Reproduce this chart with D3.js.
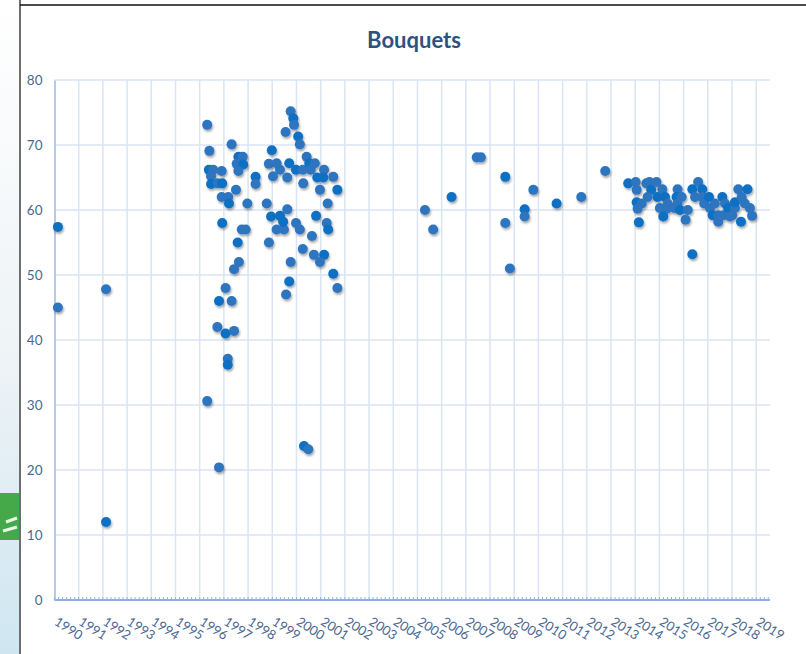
<!DOCTYPE html>
<html>
<head>
<meta charset="utf-8">
<script src="https://cdn.jsdelivr.net/npm/d3@7"></script>
<style>
  html, body { margin: 0; padding: 0; background: #fff; }
  svg { display: block; }
</style>
</head>
<body>
<svg id="chart"></svg>
<script>
// chart data (year as decimal, score)
const title = 'Bouquets'
const threshold = 50
const yTicks = [0, 10, 20, 30, 40, 50, 60, 70, 80]
const xTickYears = d3.range(1990, 2020)

const early = [[1990.14, 57.4], [1990.14, 45], [1992.13, 47.8], [1992.13, 12]]

const late90s = [
  [1996.31, 73.1], [1996.40, 69.1], [1996.38, 66.2], [1996.56, 66.2], [1996.47, 65.2],
  [1996.47, 64], [1996.74, 64.1], [1996.91, 66], [1996.93, 64.1], [1996.91, 62],
  [1997.18, 62], [1997.21, 61], [1997.32, 70.1], [1997.50, 63.1], [1997.60, 68.2],
  [1997.78, 68.2], [1997.53, 67.1], [1997.80, 67], [1997.60, 66], [1997.97, 61],
  [1996.93, 58], [1997.74, 57], [1997.90, 57], [1997.57, 55], [1997.62, 52],
  [1997.42, 50.9], [1998.31, 65.1], [1998.31, 64], [1998.77, 61], [1998.95, 59],
  [1998.86, 55], [1998.86, 67.1], [1998.98, 69.2], [1999.03, 65.2],
  [1997.07, 48], [1996.80, 46], [1997.32, 46], [1996.73, 42], [1997.07, 41],
  [1997.42, 41.4], [1997.16, 37.1], [1997.16, 36.2], [1996.31, 30.6], [1996.80, 20.4]
]

const turnOfCentury = [
  [2000.31, 23.7], [2000.49, 23.2], [1999.57, 47], [1999.70, 49], [2001.69, 48],
  [1999.76, 75.2], [1999.87, 74.1], [1999.90, 73.1], [1999.55, 72], [2000.07, 71.3],
  [2000.14, 70.1], [1999.18, 67.2], [1999.70, 67.2], [1999.32, 66.2], [1999.62, 65],
  [1999.98, 66.2], [2000.26, 66.2], [2000.42, 68.2], [2000.53, 67.2], [2000.76, 67.2],
  [2000.59, 66.2], [2000.86, 65], [2001.14, 66.2], [2001.52, 65.1], [2001.11, 65],
  [2000.28, 64.1], [2000.97, 63.1], [2001.69, 63.1], [2001.29, 61], [1999.62, 60.1],
  [1999.32, 59.1], [1999.18, 57], [1999.48, 57], [1999.45, 58.2], [1999.98, 58],
  [2000.14, 57], [2000.81, 59.1], [2000.64, 56], [2001.25, 58], [2001.31, 57],
  [2000.26, 54], [2000.72, 53.1], [2001.14, 53.1], [2000.97, 52], [1999.76, 52],
  [2001.52, 50.2]
]

const mid2000s = [
  [2005.31, 60], [2005.65, 57], [2006.41, 62], [2007.45, 68.1], [2007.62, 68.1],
  [2008.63, 65.1], [2008.63, 58], [2008.82, 51], [2009.43, 60.1], [2009.43, 59],
  [2009.79, 63.1], [2010.75, 61], [2011.77, 62], [2012.76, 66]
]

const recent = [
  [2013.71, 64.1], [2014.02, 64.3], [2014.06, 63.1], [2014.06, 61.2], [2014.27, 61],
  [2014.10, 60.2], [2014.15, 58.1], [2014.46, 64.1], [2014.59, 64.3], [2014.66, 63.1],
  [2014.88, 64.3], [2014.51, 62], [2014.92, 62], [2015.12, 63.2], [2015.02, 60.3],
  [2015.23, 62], [2015.34, 61], [2015.30, 60.2], [2015.16, 59], [2015.61, 60.3],
  [2015.75, 63.2], [2015.71, 62], [2015.92, 62], [2015.75, 61], [2015.85, 60],
  [2016.17, 60], [2016.08, 58.5], [2016.36, 63.2], [2016.47, 62], [2016.60, 64.3],
  [2016.77, 63.2], [2016.77, 62], [2016.85, 61], [2017.05, 62], [2017.09, 60.3],
  [2017.29, 61], [2017.20, 59.2], [2017.43, 58.2], [2017.43, 59.2], [2017.60, 62],
  [2017.71, 61], [2017.64, 59.2], [2017.84, 60.3], [2017.91, 59], [2018.12, 60.3],
  [2018.12, 61.2], [2018.01, 59.2], [2018.26, 63.2], [2018.64, 63.2], [2018.40, 62],
  [2018.53, 61], [2018.37, 58.2], [2018.74, 60.3], [2018.83, 59.1], [2016.36, 53.2]
]

const points = [...early, ...late90s, ...turnOfCentury, ...mid2000s, ...recent]

const W = 806, H = 654
const svg = d3.select('#chart').attr('width', W).attr('height', H)

const defs = svg.append('defs')
const bg = defs.append('linearGradient').attr('id', 'sideBg')
  .attr('x1', 0).attr('y1', 0).attr('x2', 0).attr('y2', 1)
bg.append('stop').attr('offset', '0%').attr('stop-color', '#ffffff')
bg.append('stop').attr('offset', '55%').attr('stop-color', '#eef3f6')
bg.append('stop').attr('offset', '100%').attr('stop-color', '#cfe6f1')

const shadow = defs.append('filter').attr('id', 'shadow')
  .attr('x', '-50%').attr('y', '-50%').attr('width', '200%').attr('height', '200%')
shadow.append('feDropShadow').attr('dx', 1).attr('dy', 2).attr('stdDeviation', 1.2)
  .attr('flood-color', '#000').attr('flood-opacity', 0.35)

// left strip from the slide behind
svg.append('rect').attr('x', 0).attr('y', 0).attr('width', 20).attr('height', H).attr('fill', 'url(#sideBg)')
svg.append('rect').attr('x', 0).attr('y', 493).attr('width', 20).attr('height', 47).attr('fill', '#45a849')
svg.append('path').attr('d', 'M6,522 L17,518 M3,531 L17,527').attr('stroke', '#e8f5e8').attr('stroke-width', 3)
svg.append('line').attr('x1', 20).attr('x2', 20).attr('y1', 0).attr('y2', H)
  .attr('stroke', '#6e6e6e').attr('stroke-width', 2)
svg.append('line').attr('x1', 20).attr('x2', W).attr('y1', 5).attr('y2', 5)
  .attr('stroke', '#111').attr('stroke-width', 1.5)

const x = d3.scaleLinear().domain([1990, 2019.57]).range([54.5, 770])
const y = d3.scaleLinear().domain([0, 80]).range([600, 80])

// gridlines
svg.append('g').selectAll('line').data(yTicks.filter(d => d > 0)).join('line')
  .attr('x1', x(1990)).attr('x2', x.range()[1])
  .attr('y1', d => y(d)).attr('y2', d => y(d))
  .attr('stroke', '#d9e5f4').attr('stroke-width', 1.5)
svg.append('g').selectAll('line').data(xTickYears.slice(1)).join('line')
  .attr('x1', d => x(d)).attr('x2', d => x(d))
  .attr('y1', y(80)).attr('y2', y(0))
  .attr('stroke', '#d9e5f4').attr('stroke-width', 1.5)

// y axis
const yAxis = svg.append('g').attr('transform', `translate(${x(1990)},0)`)
  .call(d3.axisLeft(y).tickValues(yTicks).tickSize(0).tickPadding(12))
yAxis.select('.domain').attr('stroke', '#b3cbea').attr('stroke-width', 2)
yAxis.selectAll('text').attr('fill', '#4a6791').attr('font-family', 'Lato, sans-serif').attr('font-size', 13.5)

// x axis with minor ticks
const minor = d3.range(0, (2019.5 - 1990) * 6 + 1).map(i => 1990 + i / 6)
svg.append('g').selectAll('line').data(minor).join('line')
  .attr('x1', d => x(d)).attr('x2', d => x(d))
  .attr('y1', y(0)).attr('y2', y(0) - 3)
  .attr('stroke', '#8fb1de').attr('stroke-width', 1)
svg.append('line').attr('x1', x(1990)).attr('x2', x.range()[1])
  .attr('y1', y(0)).attr('y2', y(0))
  .attr('stroke', '#8fb1de').attr('stroke-width', 2)

svg.append('g').selectAll('text').data(xTickYears).join('text')
  .attr('transform', d => `translate(${x(d) - 1},${y(0) + 24}) rotate(33)`)
  .attr('fill', '#4a6791').attr('font-family', 'Lato, sans-serif').attr('font-size', 13)
  .text(d => d)

// title
svg.append('text').attr('x', 414).attr('y', 48).attr('text-anchor', 'middle')
  .attr('fill', '#2d5181').attr('font-family', 'Lato, sans-serif')
  .attr('font-weight', 'bold').attr('font-size', 22)
  .text(title)

// threshold line
svg.append('line').attr('x1', x(1990) + 3).attr('x2', 767)
  .attr('y1', y(threshold)).attr('y2', y(threshold))
  .attr('stroke', '#ff0000').attr('stroke-width', 4).attr('filter', 'url(#shadow)')

// points
svg.append('g').attr('filter', 'url(#shadow)')
  .selectAll('circle').data(points).join('circle')
  .attr('cx', d => x(d[0])).attr('cy', d => y(d[1]))
  .attr('r', 5)
  .attr('fill', (d, i) => i % 3 === 0 ? '#0b6fc3' : '#2f74c0')
</script>
</body>
</html>
